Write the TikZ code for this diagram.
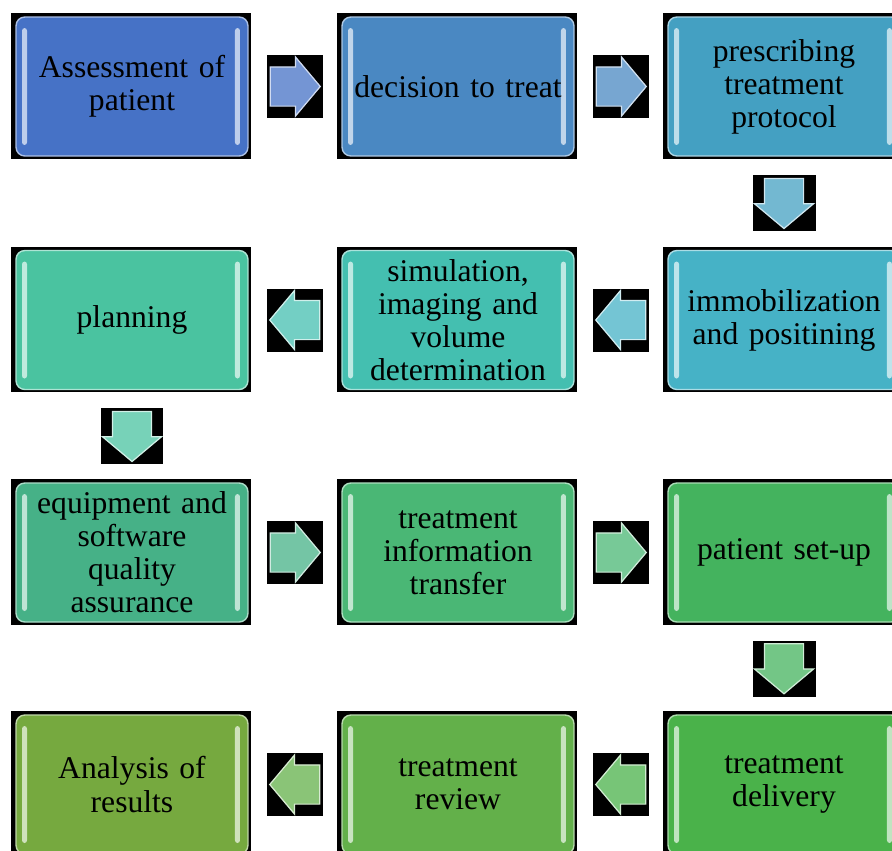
\documentclass[tikz,border=0pt]{standalone}
\usepackage{fontspec}
\setmainfont{Liberation Serif}
\usetikzlibrary{shapes.arrows, positioning, calc, backgrounds}
\definecolor{assesscol}{HTML}{4672C6}
\definecolor{decidecol}{HTML}{4A88C2}
\definecolor{prescribecol}{HTML}{44A0C2}
\definecolor{immobcol}{HTML}{46B2C6}
\definecolor{simulcol}{HTML}{44BFB0}
\definecolor{plancol}{HTML}{4AC3A0}
\definecolor{equipcol}{HTML}{46B187}
\definecolor{transfercol}{HTML}{4AB775}
\definecolor{setupcol}{HTML}{44B35E}
\definecolor{deliverycol}{HTML}{4AB24A}
\definecolor{reviewcol}{HTML}{63B04A}
\definecolor{analysiscol}{HTML}{76A93F}

\begin{document}
\begin{tikzpicture}[x=0.02cm, y=-0.02cm,
  stage/.style={rectangle, rounded corners=5pt, minimum width=4.64cm,
                minimum height=2.78cm, text width=4.5cm, align=center,
                inner sep=0pt, font=\fontsize{18}{18.8}\selectfont,
                fill=#1, draw=#1!45!white, line width=0.8pt,
                path picture={
                  \fill[#1!35!white, rounded corners=1.5pt]
                    ([xshift=0.12cm, yshift=0.22cm]path picture bounding box.south west)
                    rectangle ++(0.1cm, 2.34cm);
                  \fill[#1!35!white, rounded corners=1.5pt]
                    ([xshift=-0.16cm, yshift=0.22cm]path picture bounding box.south east)
                    rectangle ++(-0.1cm, 2.34cm);
                }},
  hbg/.style={rectangle, fill=black, minimum width=1.12cm, minimum height=1.26cm, inner sep=0pt},
  vbg/.style={rectangle, fill=black, minimum width=1.26cm, minimum height=1.12cm, inner sep=0pt},
  flow/.style={single arrow, single arrow head extend=0.2cm,
               single arrow tip angle=100, minimum height=1.0cm,
               inner xsep=0pt, inner ysep=0.38cm, anchor=tail,
               fill=#1!75!white, draw=#1!25!white, line width=0.7pt}
]
\useasboundingbox (0,0) rectangle (892,850);
\clip (0,0) rectangle (892,850);

% row 1
\node[stage=assesscol] (assess) at (132,86.5) {Assessment of\\patient};
\node[stage=decidecol] (decide) at (458,86.5) {decision to treat};
\node[stage=prescribecol] (prescribe) at (784,86.5) {prescribing\\treatment\\protocol};

% row 2
\node[stage=immobcol] (immob) at (784,320) {immobilization\\and positining};
\node[stage=simulcol] (simul) at (458,320) {simulation,\\imaging and\\volume\\determination};
\node[stage=plancol] (plan) at (132,320) {planning};

% row 3
\node[stage=equipcol] (equip) at (132,552.5) {equipment and\\software\\quality\\assurance};
\node[stage=transfercol] (transfer) at (458,552.5) {treatment\\information\\transfer};
\node[stage=setupcol] (setup) at (784,552.5) {patient set-up};

% row 4
\node[stage=deliverycol] (delivery) at (784,784.5) {treatment\\delivery};
\node[stage=reviewcol] (review) at (458,784.5) {treatment\\review};
\node[stage=analysiscol] (analysis) at (132,784.5) {Analysis of\\results};

% black frames behind the boxes
\begin{scope}[on background layer]
\foreach \n in {assess,decide,prescribe,immob,simul,plan,
                equip,transfer,setup,delivery,review,analysis}
  \fill[black] ([xshift=-0.08cm, yshift=-0.04cm]\n.south west)
    rectangle ([xshift=0.04cm, yshift=0.06cm]\n.north east);
\end{scope}

% block arrows between the steps
\node[hbg] (g1) at ($(assess.east)!0.5!(decide.west)$) {};
\node[flow=assesscol] (a1) at ([xshift=0.06cm]g1.west) {};
\node[hbg] (g2) at ($(decide.east)!0.5!(prescribe.west)$) {};
\node[flow=decidecol] (a2) at ([xshift=0.06cm]g2.west) {};
\node[vbg] (g3) at ($(prescribe.south)!0.5!(immob.north)$) {};
\node[flow=prescribecol, rotate=-90] (a3) at ([yshift=-0.06cm]g3.north) {};
\node[hbg] (g4) at ($(immob.west)!0.5!(simul.east)$) {};
\node[flow=immobcol, rotate=180] (a4) at ([xshift=-0.06cm]g4.east) {};
\node[hbg] (g5) at ($(simul.west)!0.5!(plan.east)$) {};
\node[flow=simulcol, rotate=180] (a5) at ([xshift=-0.06cm]g5.east) {};
\node[vbg] (g6) at ($(plan.south)!0.5!(equip.north)$) {};
\node[flow=plancol, rotate=-90] (a6) at ([yshift=-0.06cm]g6.north) {};
\node[hbg] (g7) at ($(equip.east)!0.5!(transfer.west)$) {};
\node[flow=equipcol] (a7) at ([xshift=0.06cm]g7.west) {};
\node[hbg] (g8) at ($(transfer.east)!0.5!(setup.west)$) {};
\node[flow=transfercol] (a8) at ([xshift=0.06cm]g8.west) {};
\node[vbg] (g9) at ($(setup.south)!0.5!(delivery.north)$) {};
\node[flow=setupcol, rotate=-90] (a9) at ([yshift=-0.06cm]g9.north) {};
\node[hbg] (g10) at ($(delivery.west)!0.5!(review.east)$) {};
\node[flow=deliverycol, rotate=180] (a10) at ([xshift=-0.06cm]g10.east) {};
\node[hbg] (g11) at ($(review.west)!0.5!(analysis.east)$) {};
\node[flow=reviewcol, rotate=180] (a11) at ([xshift=-0.06cm]g11.east) {};

\end{tikzpicture}
\end{document}
